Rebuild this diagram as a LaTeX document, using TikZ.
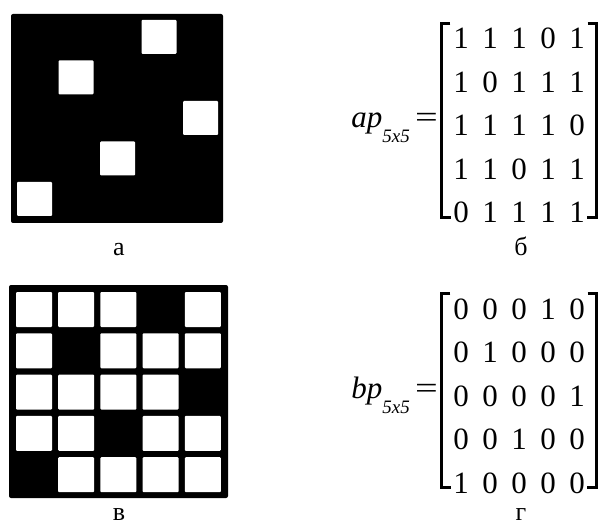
\documentclass[tikz,border=0pt]{standalone}
\usepackage{fontspec}
\setmainfont{Liberation Serif}
\usetikzlibrary{matrix,positioning}

\tikzset{
  board/.style={fill=black, rounded corners=2pt},
  hole/.style={fill=white, rounded corners=1pt},
  brk/.style={line width=3pt},
  digits/.style={matrix of nodes, row sep=22.5pt, column sep=0pt,
    nodes={font=\fontsize{31}{31}\selectfont, inner sep=0pt,
      text height=21pt, text depth=0pt, minimum width=29pt}},
  caption/.style={font=\fontsize{26}{26}\selectfont, inner sep=0pt, anchor=base},
  eqn/.style={inner sep=0pt, anchor=base east}
}

\begin{document}
\begin{tikzpicture}[x=1pt,y=-1pt]
  \useasboundingbox (0,0) rectangle (601,526);
  % a: black field, white where ap = 0
  \fill[board] (11,14) rectangle (223,223);
  \foreach \row [count=\r from 0] in {{1,1,1,0,1},{1,0,1,1,1},{1,1,1,1,0},{1,1,0,1,1},{0,1,1,1,1}}
    \foreach \v [count=\c from 0] in \row
      {\ifnum\v=0 \fill[hole] (17+41.5*\c,20+40.5*\r) rectangle ++(35,34);\fi}
  \node (capa) [caption] at (119,255) {а};
  % b: matrix ap
  \matrix (amat) [digits] at (519,125.5) {
    1 & 1 & 1 & 0 & 1 \\
    1 & 0 & 1 & 1 & 1 \\
    1 & 1 & 1 & 1 & 0 \\
    1 & 1 & 0 & 1 & 1 \\
    0 & 1 & 1 & 1 & 1 \\
  };
  \draw[brk] ([xshift=7.5pt,yshift=1pt]amat.north west) -| ([xshift=-1.5pt,yshift=9pt]amat.south west) -- ++(10,0);
  \draw[brk] ([xshift=-7.5pt,yshift=1pt]amat.north east) -| ([xshift=1.5pt,yshift=9pt]amat.south east) -- ++(-10,0);
  \node (aeq) [eqn] at (438,128) {\fontsize{31}{31}\selectfont\itshape ap\raisebox{-15pt}{\fontsize{19}{19}\selectfont 5x5}\,\upshape\scalebox{1.3}[1]{=}};
  \node (capb) [caption] at (521,255) {б};
  % v: black field, white where bp = 0
  \fill[board] (9,285) rectangle (228,498);
  \foreach \row [count=\r from 0] in {{0,0,0,1,0},{0,1,0,0,0},{0,0,0,0,1},{0,0,1,0,0},{1,0,0,0,0}}
    \foreach \v [count=\c from 0] in \row
      {\ifnum\v=0 \fill[hole] (16+42.2*\c,292+41.3*\r) rectangle ++(36,35);\fi}
  \node (capv) [caption] at (119,520) {в};
  % g: matrix bp
  \matrix (bmat) [digits] at (519,395.5) {
    0 & 0 & 0 & 1 & 0 \\
    0 & 1 & 0 & 0 & 0 \\
    0 & 0 & 0 & 0 & 1 \\
    0 & 0 & 1 & 0 & 0 \\
    1 & 0 & 0 & 0 & 0 \\
  };
  \draw[brk] ([xshift=7.5pt,yshift=1pt]bmat.north west) -| ([xshift=-1.5pt,yshift=9pt]bmat.south west) -- ++(10,0);
  \draw[brk] ([xshift=-7.5pt,yshift=1pt]bmat.north east) -| ([xshift=1.5pt,yshift=9pt]bmat.south east) -- ++(-10,0);
  \node (beq) [eqn] at (438,398) {\fontsize{31}{31}\selectfont\itshape bp\raisebox{-15pt}{\fontsize{19}{19}\selectfont 5x5}\,\upshape\scalebox{1.3}[1]{=}};
  \node (capg) [caption] at (521,520) {г};
\end{tikzpicture}
\end{document}
